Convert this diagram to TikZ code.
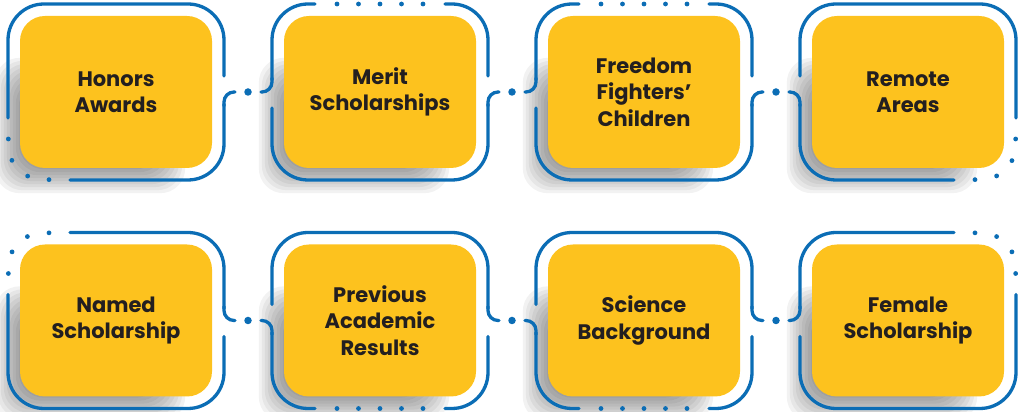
\documentclass[tikz,border=0pt]{standalone}
\usepackage{fontspec}
\setmainfont{Poppins}
\usetikzlibrary{positioning, calc, backgrounds}
\definecolor{boxyellow}{HTML}{FDC21E}
\definecolor{lineblue}{HTML}{0B6DB5}
\definecolor{textdark}{HTML}{231F20}

\begin{document}
\begin{tikzpicture}[x=1pt, y=1pt, line cap=round, node distance=228.5pt and 264pt, on grid,
      box/.style={fill=boxyellow, rounded corners=25pt, minimum width=192pt, minimum height=152pt,
        align=center, text=textdark, font=\bfseries\fontsize{21}{26.5}\selectfont},
      frame/.style={minimum width=216pt, minimum height=176pt, inner sep=0pt, outer sep=0pt},
      rim/.style={draw=lineblue, line width=3.3pt, rounded corners=36pt},
      hook/.style={draw=lineblue, line width=3.3pt, rounded corners=10pt},
      bead/.style={circle, fill=lineblue, inner sep=0pt, minimum size=7.5pt}]
      \useasboundingbox (0,0) rectangle (1018,412);
      \node[box] (b1) at (116,320) {Honors\\Awards};
      \node[box, right=of b1] (b2) {Merit\\Scholarships};
      \node[box, right=of b2] (b3) {Freedom\\Fighters’\\Children};
      \node[box, right=of b3] (b4) {Remote\\Areas};
      \node[box, below=of b1] (b5) {Named\\Scholarship};
      \node[box, right=of b5] (b6) {Previous\\Academic\\Results};
      \node[box, right=of b6] (b7) {Science\\Background};
      \node[box, right=of b7] (b8) {Female\\Scholarship};
      \foreach \n in {1,...,8} \node[frame] (f\n) at (b\n) {};
      % soft shadows
      \begin{scope}[on background layer]
        \foreach \n in {1,...,8}
          \foreach \d in {-14,-11,...,13}
            \fill[black, opacity=0.05, rounded corners=25pt] ($(b\n.south west)+(-12-\d,-12-\d)$)
              rectangle ($(b\n.north east)+(-40+\d,-55+\d)$);
      \end{scope}
      % top row frames
      \draw[rim] ($(f1.west)+(0,-26)$) -- (f1.north west) -- (f1.north east) -- ($(f1.east)+(0,16)$);
      \draw[rim] ($(f1.south west)+(62,0)$) -- (f1.south east) -- ($(f1.east)+(0,-12)$);
      \foreach \t in {172,207,243,278} \fill[lineblue] ($(f1.south west)+(36,36)+(\t:36)$) circle (2.4);
      \foreach \n in {2,3} {
        \draw[rim] ($(f\n.west)+(0,12)$) -- (f\n.north west) -- ($(f\n.north)+(-65,0)$);
        \draw[rim] ($(f\n.north)+(65,0)$) -- (f\n.north east) -- ($(f\n.east)+(0,16)$);
        \draw[rim] ($(f\n.west)+(0,-16)$) -- (f\n.south west) -- (f\n.south east) -- ($(f\n.east)+(0,-12)$);
        \foreach \s in {-43,-21.5,0,21.5,43} \fill[lineblue] ($(f\n.north)+(\s,0)$) circle (2.4);
      }
      \draw[rim] ($(f4.west)+(0,16)$) -- (f4.north west) -- (f4.north east) -- ($(f4.east)+(0,-26)$);
      \draw[rim] ($(f4.west)+(0,-12)$) -- (f4.south west) -- ($(f4.south east)+(-62,0)$);
      \foreach \t in {-98,-62.5,-27.5,8} \fill[lineblue] ($(f4.south east)+(-36,36)+(\t:36)$) circle (2.4);
      % bottom row frames
      \draw[rim] ($(f5.north west)+(62,0)$) -- (f5.north east) -- ($(f5.east)+(0,12)$);
      \draw[rim] ($(f5.west)+(0,26)$) -- (f5.south west) -- (f5.south east) -- ($(f5.east)+(0,-16)$);
      \foreach \t in {82,117.5,152.5,188} \fill[lineblue] ($(f5.north west)+(36,-36)+(\t:36)$) circle (2.4);
      \foreach \n in {6,7} {
        \draw[rim] ($(f\n.west)+(0,16)$) -- (f\n.north west) -- (f\n.north east) -- ($(f\n.east)+(0,12)$);
        \draw[rim] ($(f\n.west)+(0,-12)$) -- (f\n.south west) -- ($(f\n.south)+(-65,0)$);
        \draw[rim] ($(f\n.south)+(65,0)$) -- (f\n.south east) -- ($(f\n.east)+(0,-16)$);
        \foreach \s in {-43,-21.5,0,21.5,43} \fill[lineblue] ($(f\n.south)+(\s,0)$) circle (2.4);
      }
      \draw[rim] ($(f8.west)+(0,12)$) -- (f8.north west) -- ($(f8.north east)+(-62,0)$);
      \draw[rim] ($(f8.east)+(0,26)$) -- (f8.south east) -- (f8.south west) -- ($(f8.west)+(0,-16)$);
      \foreach \t in {-8,27.5,62.5,98} \fill[lineblue] ($(f8.north east)+(-36,-36)+(\t:36)$) circle (2.4);
      % links between frames
      \foreach \a/\b/\u/\v in {1/2/-1/1, 2/3/-1/1, 3/4/-1/-1, 5/6/1/-1, 6/7/1/-1, 7/8/1/1} {
        \draw[hook] ($(f\a.east)+(0,\u*14)$) -- (f\a.east) -- ($(f\a.east)+(11,0)$);
        \node[bead] (d\a) at ($(f\a.east)!.5!(f\b.west)$) {};
        \draw[hook] ($(f\b.west)+(-11,0)$) -- (f\b.west) -- ($(f\b.west)+(0,\v*14)$);
      }
    \end{tikzpicture}
\end{document}
